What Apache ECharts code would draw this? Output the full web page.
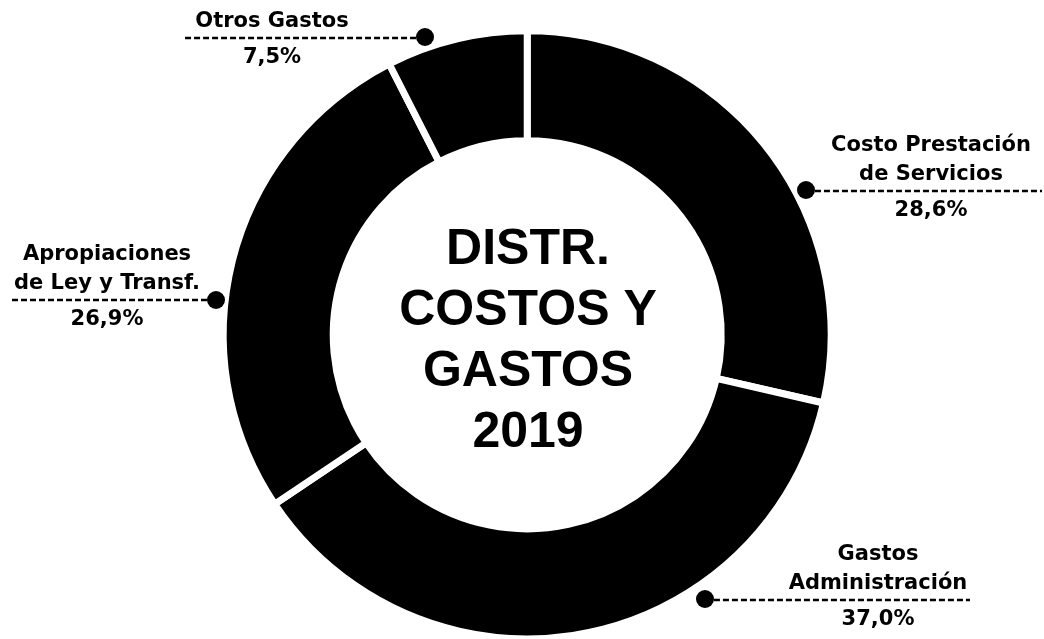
<!DOCTYPE html>
<html>
<head>
<meta charset="utf-8">
<script src="https://cdn.jsdelivr.net/npm/echarts@6/dist/echarts.min.js"></script>
<style>
html,body{margin:0;padding:0;background:#ffffff;}
#chart{width:1044px;height:639px;}
</style>
</head>
<body>
<div id="chart"></div>
<script>
// ---- data ----
const categories = ['Costo Prestación\nde Servicios', 'Gastos\nAdministración', 'Apropiaciones\nde Ley y Transf.', 'Otros Gastos'];
const shares = [28.6, 37.0, 26.9, 7.5];
const centerTitle = ['DISTR.', 'COSTOS Y', 'GASTOS', '2019'];

// ---- label placement (styling only) ----
const labelPlacement = [
  { cx: 931, lineY: 191, near: 816, far: 1042, dot: [806, 190] },
  { cx: 878, lineY: 600, near: 714, far: 970, dot: [705, 599] },
  { cx: 107, lineY: 300, near: 206, far: 10, dot: [216, 300] },
  { cx: 272, lineY: 38, near: 417, far: 185, dot: [425, 37] }
];
const NAME_LH = 29;
const LABEL_FONT = 21;

const chart = echarts.init(document.getElementById('chart'), null, { renderer: 'canvas' });

const fmtPct = v => v.toFixed(1).replace('.', ',') + '%';

const option = {
  backgroundColor: '#ffffff',
  animation: false,
  series: [{
    type: 'pie',
    center: ['50.5%', '52.4%'],
    radius: [194, 304],
    startAngle: 90,
    clockwise: true,
    avoidLabelOverlap: false,
    silent: true,
    emphasis: { disabled: true },
    itemStyle: { color: '#000000', borderColor: '#ffffff', borderWidth: 7 },
    data: categories.map((c, i) => ({ name: c, value: shares[i] })),
    label: {
      show: true,
      position: 'outside',
      color: '#000000',
      fontFamily: 'DejaVu Sans',
      fontWeight: 'bold',
      fontSize: LABEL_FONT,
      formatter: p => '{n|' + p.name + '}\n{p|' + fmtPct(p.value) + '}',
      rich: {
        n: { fontFamily: 'DejaVu Sans', fontWeight: 'bold', fontSize: LABEL_FONT, lineHeight: NAME_LH, color: '#000', align: 'center' },
        p: { fontFamily: 'DejaVu Sans', fontWeight: 'bold', fontSize: LABEL_FONT, lineHeight: 44, color: '#000', align: 'center' }
      }
    },
    labelLine: {
      show: true,
      smooth: false,
      lineStyle: { color: '#000000', width: 2.5, type: [6, 3] }
    },
    labelLayout: function (params) {
      const i = params.dataIndex;
      const pl = labelPlacement[i];
      const nLines = categories[i].split('\n').length;
      return {
        x: pl.cx,
        y: pl.lineY - nLines * NAME_LH - 2,
        align: 'center',
        verticalAlign: 'top',
        labelLinePoints: [pl.dot.slice(), [pl.near, pl.lineY], [pl.far, pl.lineY]]
      };
    }
  }],
  graphic: [
    ...labelPlacement.map(pl => ({
      type: 'circle',
      shape: { cx: pl.dot[0], cy: pl.dot[1], r: 9 },
      style: { fill: '#000000' },
      silent: true,
      z: 100
    })),
    {
      type: 'text',
      x: 528,
      y: 342,
      silent: true,
      z: 100,
      style: {
        text: centerTitle.join('\n'),
        fill: '#000000',
        font: 'bold 50px "Liberation Sans", Arial, sans-serif',
        lineHeight: 61,
        align: 'center',
        verticalAlign: 'middle'
      }
    }
  ]
};

chart.setOption(option);
</script>
</body>
</html>
